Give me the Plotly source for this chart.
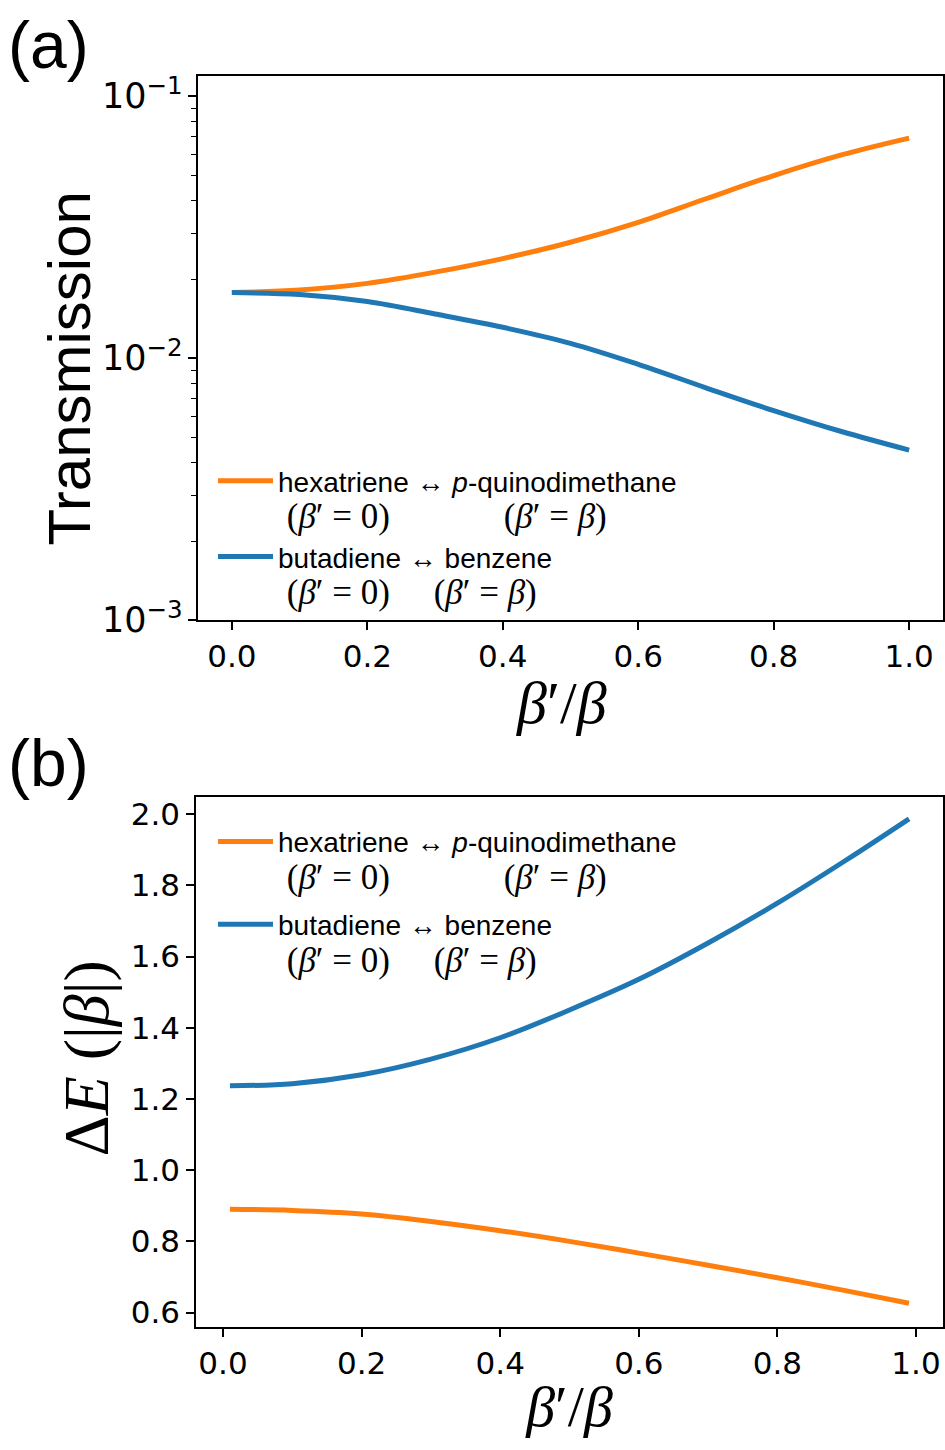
import plotly.graph_objects as go

# Panel (a): transmission vs. coupling ratio beta'/beta (log scale)
ratio_a = [0.0, 0.1, 0.2, 0.3, 0.4, 0.5, 0.6, 0.7, 0.8, 0.9, 1.0]
hexatriene_T = [0.0178, 0.0182, 0.0193, 0.0213, 0.0240, 0.0277, 0.0330, 0.0406, 0.0498, 0.0597, 0.0692]
butadiene_T = [0.0178, 0.0175, 0.01645, 0.01475, 0.01312, 0.0114, 0.00948, 0.00771, 0.00631, 0.00525, 0.00446]

# Panel (b): energy gap in units of |beta|
ratio_b = [0.01, 0.1, 0.2, 0.3, 0.4, 0.5, 0.6, 0.7, 0.8, 0.9, 0.99]
hexatriene_gap = [0.890, 0.887, 0.877, 0.856, 0.830, 0.800, 0.767, 0.733, 0.698, 0.661, 0.626]
butadiene_gap = [1.237, 1.243, 1.268, 1.312, 1.372, 1.450, 1.536, 1.638, 1.750, 1.872, 1.987]

x_ticks = [0.0, 0.2, 0.4, 0.6, 0.8, 1.0]
x_tick_labels = ["0.0", "0.2", "0.4", "0.6", "0.8", "1.0"]
gap_ticks = [0.6, 0.8, 1.0, 1.2, 1.4, 1.6, 1.8, 2.0]
gap_tick_labels = ["0.6", "0.8", "1.0", "1.2", "1.4", "1.6", "1.8", "2.0"]

ORANGE = "#ff7f0e"
BLUE = "#1f77b4"
SANS = "Liberation Sans"
SERIF = "Liberation Serif"
TICK_FONT = dict(family="DejaVu Sans", size=31, color="black")

NB = "\u00a0"


def math_line(gap):
    return ("<span style='font-family:%s;font-size:35px'>" % SERIF
            + NB + "(<i>β</i>′ = 0)" + NB * gap + "(<i>β</i>′ = <i>β</i>)</span>")


hexa_name = "hexatriene ↔ <i>p</i>-quinodimethane<br>" + math_line(13)
buta_name = "butadiene ↔ benzene<br>" + math_line(5)

fig = go.Figure()

fig.add_trace(go.Scatter(x=ratio_a, y=hexatriene_T, mode="lines", name=hexa_name,
                         line=dict(color=ORANGE, width=5, shape="spline"),
                         xaxis="x", yaxis="y", legend="legend", legendgroup="a1"))
fig.add_trace(go.Scatter(x=ratio_a, y=butadiene_T, mode="lines", name=buta_name,
                         line=dict(color=BLUE, width=5, shape="spline"),
                         xaxis="x", yaxis="y", legend="legend", legendgroup="a2"))
fig.add_trace(go.Scatter(x=ratio_b, y=hexatriene_gap, mode="lines", name=hexa_name,
                         line=dict(color=ORANGE, width=5, shape="spline"),
                         xaxis="x2", yaxis="y2", legend="legend2", legendgroup="b1"))
fig.add_trace(go.Scatter(x=ratio_b, y=butadiene_gap, mode="lines", name=buta_name,
                         line=dict(color=BLUE, width=5, shape="spline"),
                         xaxis="x2", yaxis="y2", legend="legend2", legendgroup="b2"))

axis_common = dict(showline=True, linecolor="black", linewidth=1.5, mirror=True,
                   ticks="outside", ticklen=8, tickwidth=1.5, tickcolor="black",
                   showgrid=False, zeroline=False, tickfont=TICK_FONT)

legend_common = dict(xanchor="left", yanchor="top", bgcolor="rgba(0,0,0,0)",
                     borderwidth=0, valign="top", itemwidth=55, traceorder="grouped",
                     font=dict(family=SANS, size=28, color="black"))


def label(text, x, y, size, family, angle=0):
    return dict(text=text, x=x / 945, y=1 - y / 1450, xref="paper", yref="paper",
                xanchor="center", yanchor="middle", showarrow=False, textangle=angle,
                font=dict(family=family, size=size, color="black"))


x_title_text = "<i>β</i>′/<i>β</i>"

fig.update_layout(
    width=945, height=1450,
    margin=dict(l=0, r=0, t=0, b=0),
    paper_bgcolor="white", plot_bgcolor="white",
    showlegend=True,
    xaxis=dict(axis_common, domain=[198 / 945, 943 / 945], anchor="y",
               range=[-0.05, 1.05], tickvals=x_ticks, ticktext=x_tick_labels),
    yaxis=dict(axis_common, domain=[1 - 626 / 1450, 1 - 72 / 1450], anchor="x",
               type="log", range=[-3, -0.922], dtick=1, exponentformat="power",
               tickfont=dict(TICK_FONT, size=28),
               minor=dict(ticks="outside", ticklen=5, tickwidth=1.2, tickcolor="black",
                          showgrid=False)),
    xaxis2=dict(axis_common, domain=[196 / 945, 943 / 945], anchor="y2",
                range=[-0.039, 1.039], tickvals=x_ticks, ticktext=x_tick_labels,
                title=dict(text=x_title_text, standoff=6,
                           font=dict(family=SERIF, size=58, color="black"))),
    yaxis2=dict(axis_common, domain=[1 - 1345 / 1450, 1 - 806 / 1450], anchor="x2",
                range=[0.56, 2.048], tickvals=gap_ticks, ticktext=gap_tick_labels),
    legend=dict(legend_common, x=213 / 945, y=1 - 459 / 1450, tracegroupgap=0),
    legend2=dict(legend_common, x=213 / 945, y=1 - 826 / 1450, tracegroupgap=7),
    annotations=[
        dict(text="(a)", x=6 / 945, y=1 - 41 / 1450, xref="paper", yref="paper",
             xanchor="left", yanchor="middle", showarrow=False,
             font=dict(family=SANS, size=66, color="black")),
        dict(text="(b)", x=6 / 945, y=1 - 771 / 1450, xref="paper", yref="paper",
             xanchor="left", yanchor="middle", showarrow=False,
             font=dict(family=SANS, size=66, color="black")),
        label("Transmission", 70, 370, 60, SANS, angle=-90),
        label("Δ<i>E</i>" + NB + "(|<i>β</i>|)", 87, 1072, 64, SERIF, angle=-90),
        label(x_title_text, 561, 710, 60, SERIF),
    ],
)

fig.write_html("out.html")
